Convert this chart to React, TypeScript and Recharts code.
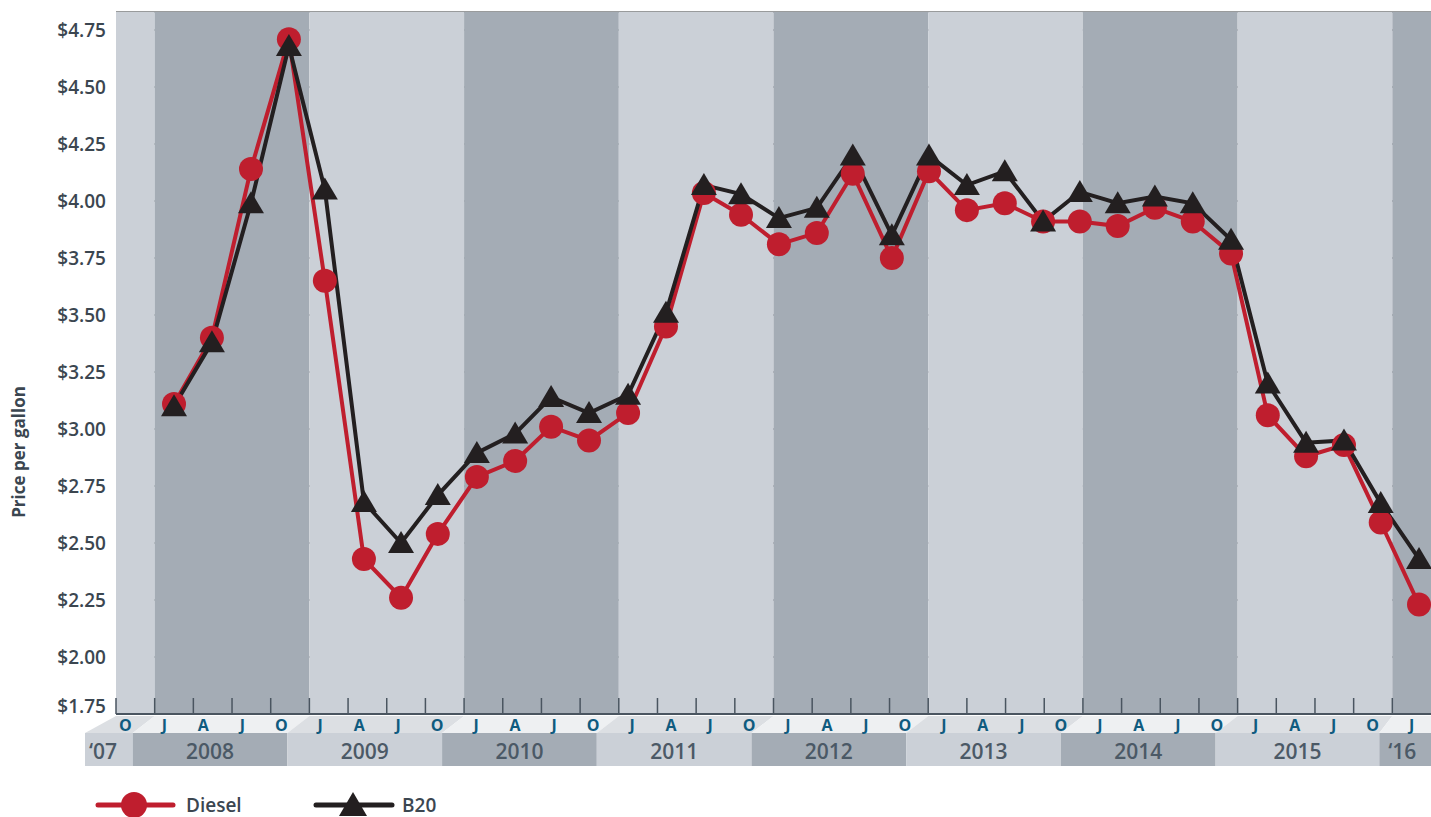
import React from "react";
import { CartesianGrid, Line, LineChart, ReferenceArea, XAxis, YAxis } from "recharts";

// quarter letters along the axis, Oct 2007 .. Jan 2016
const quarterLetters = [
  "O",
  "J", "A", "J", "O",
  "J", "A", "J", "O",
  "J", "A", "J", "O",
  "J", "A", "J", "O",
  "J", "A", "J", "O",
  "J", "A", "J", "O",
  "J", "A", "J", "O",
  "J", "A", "J", "O",
  "J",
];

const yearLabels = ["‘07", "2008", "2009", "2010", "2011", "2012", "2013", "2014", "2015", "‘16"];
const yearStarts = [0, 1, 5, 9, 13, 17, 21, 25, 29, 33];
const yearEnds = [1, 5, 9, 13, 17, 21, 25, 29, 33, 34];

// position of each price report, in quarters from Oct 2007
const reportPositions = [
  1.5, 2.48, 3.49, 4.47, 5.4, 6.41, 7.37, 8.32, 9.33, 10.32, 11.25, 12.23,
  13.24, 14.22, 15.2, 16.16, 17.14, 18.12, 19.05, 20.06, 21.02, 22.0, 22.98,
  23.97, 24.92, 25.9, 26.86, 27.84, 28.83, 29.78, 30.77, 31.75, 32.7, 33.69,
];

const dieselPrices = [
  3.11, 3.4, 4.14, 4.71, 3.65, 2.43, 2.26, 2.54, 2.79, 2.86, 3.01, 2.95,
  3.07, 3.45, 4.035, 3.94, 3.81, 3.86, 4.12, 3.75, 4.13, 3.96, 3.99, 3.91,
  3.91, 3.89, 3.97, 3.91, 3.77, 3.06, 2.88, 2.93, 2.59, 2.23,
];

const b20Prices = [
  3.1, 3.38, 3.99, 4.68, 4.05, 2.68, 2.5, 2.71, 2.895, 2.98, 3.14, 3.07,
  3.15, 3.51, 4.07, 4.03, 3.925, 3.97, 4.2, 3.85, 4.2, 4.07, 4.13, 3.91,
  4.04, 3.99, 4.02, 3.99, 3.83, 3.2, 2.94, 2.95, 2.675, 2.43,
];

const priceTicks = [1.75, 2, 2.25, 2.5, 2.75, 3, 3.25, 3.5, 3.75, 4, 4.25, 4.5, 4.75];
const quarterTicks = quarterLetters.map((_, i) => i + 0.5);

const data = reportPositions.map((t, i) => ({
  t,
  diesel: dieselPrices[i],
  b20: b20Prices[i],
}));

const RED = "#bf1e2e";
const BLACK = "#231f20";
const LIGHT = "#cbd0d7";
const DARK = "#a4acb5";
const AXIS = "#4a5560";
const TEXT = "#3b4650";
const FONT = "'Open Sans', sans-serif";

// how far the year strip sits left of the plot band at a year boundary
const shearAt = (boundary: number) => (boundary === 0 ? 31 : boundary === yearLabels.length - 1 ? 13 : 22);

function yearBand(i: number) {
  return (props: any) => {
    const { x, y, width, height } = props;
    const dark = i % 2 === 1;
    const bottom = y + height;
    const n = yearEnds[i] - yearStarts[i];
    const q = width / n;
    const first = i === 0;
    const last = i === yearLabels.length - 1;
    const left = x - shearAt(i);
    const topRight = last ? x + width + 40 : x + width;
    const right = last ? x + width + 40 : x + width - shearAt(i + 1);
    const rowTop = bottom + 2;
    const rowMid = bottom + 19;
    const rowBottom = bottom + 52;
    const ticks = [];
    for (let k = 0; k < n; k++) {
      ticks.push(
        <line key={k} x1={x + k * q} x2={x + k * q} y1={bottom - 16} y2={bottom} stroke={AXIS} strokeWidth={1.5} />
      );
    }
    return (
      <g>
        <rect x={x} y={y} width={width} height={height} fill={dark ? DARK : LIGHT} />
        {ticks}
        <polygon
          points={`${x},${rowTop} ${topRight},${rowTop} ${right},${rowMid} ${left},${rowMid}`}
          fill={dark ? "#eef0f2" : "#dcdfe3"}
        />
        <rect x={left} y={rowMid} width={right - left} height={rowBottom - rowMid} fill={dark ? DARK : LIGHT} />
        <text
          x={first ? left + 18 : last ? left + 23 : (left + right) / 2}
          y={(rowMid + rowBottom) / 2 + 1}
          textAnchor="middle"
          dominantBaseline="central"
          fill="#4b5966"
          fontFamily={FONT}
          fontSize={21}
          fontWeight={600}
        >
          {yearLabels[i]}
        </text>
      </g>
    );
  };
}

const QuarterTick = (props: any) => {
  const { x, y, payload } = props;
  const idx = Math.floor(payload.value);
  const shift = -10 * (1 - idx / 33);
  return (
    <text
      x={x + shift}
      y={y + 11}
      textAnchor="middle"
      dominantBaseline="central"
      fill="#0f5b7f"
      fontFamily={FONT}
      fontSize={16}
      fontWeight={700}
    >
      {quarterLetters[idx]}
    </text>
  );
};

const PriceTick = (props: any) => {
  const { x, y, payload } = props;
  const dy = payload.value === 1.75 ? -8 : 0;
  return (
    <text
      x={x}
      y={y + dy}
      textAnchor="end"
      dominantBaseline="central"
      fill={TEXT}
      fontFamily={FONT}
      fontSize={19}
      fontWeight={600}
    >
      {"$" + payload.value.toFixed(2)}
    </text>
  );
};

const Triangle = (props: any) => {
  const { cx, cy, index } = props;
  if (cx == null || cy == null) return <g key={index} />;
  return (
    <polygon
      key={index}
      points={`${cx},${cy - 12} ${cx + 13},${cy + 10} ${cx - 13},${cy + 10}`}
      fill={BLACK}
    />
  );
};

export default function App() {
  return (
    <div
      style={{
        position: "absolute",
        left: 0,
        top: 0,
        width: 1431,
        height: 817,
        overflow: "hidden",
        background: "#ffffff",
        fontFamily: FONT,
      }}
    >
      <LineChart width={1431} height={766} data={data} margin={{ top: 12, right: 0, bottom: 0, left: 0 }}>
        {yearLabels.map((label, i) => (
          <ReferenceArea
            key={label}
            x1={yearStarts[i]}
            x2={yearEnds[i]}
            ifOverflow="visible"
            shape={yearBand(i)}
          />
        ))}
        <CartesianGrid horizontal vertical={false} stroke="#999b9c" strokeWidth={2} />
        <XAxis
          type="number"
          dataKey="t"
          domain={[0, 34]}
          ticks={quarterTicks}
          interval={0}
          tick={<QuarterTick />}
          tickLine={false}
          tickSize={0}
          tickMargin={0}
          axisLine={{ stroke: AXIS, strokeWidth: 2 }}
          height={52}
          allowDataOverflow
        />
        <YAxis
          type="number"
          domain={[1.75, 4.829]}
          ticks={priceTicks}
          interval={0}
          tick={<PriceTick />}
          tickLine={false}
          axisLine={false}
          tickSize={0}
          tickMargin={10}
          width={116}
          allowDataOverflow
        />
        <Line
          type="linear"
          dataKey="diesel"
          stroke={RED}
          strokeWidth={4}
          dot={{ r: 12, fill: RED, stroke: "none" }}
          activeDot={false}
          isAnimationActive={false}
        />
        <Line
          type="linear"
          dataKey="b20"
          stroke={BLACK}
          strokeWidth={4}
          dot={<Triangle />}
          activeDot={false}
          isAnimationActive={false}
        />
      </LineChart>

      <div
        style={{
          position: "absolute",
          left: 18,
          top: 452,
          transform: "translate(-50%, -50%) rotate(-90deg)",
          fontSize: 17,
          fontWeight: 700,
          color: TEXT,
          whiteSpace: "nowrap",
        }}
      >
        Price per gallon
      </div>

      <svg width={1431} height={51} style={{ position: "absolute", left: 0, top: 766 }}>
        <line x1={98} x2={173} y1={39} y2={39} stroke={RED} strokeWidth={5} strokeLinecap="round" />
        <circle cx={134} cy={39} r={13} fill={RED} />
        <text x={186} y={39} dominantBaseline="central" fill={TEXT} fontFamily={FONT} fontSize={19} fontWeight={600}>
          Diesel
        </text>
        <line x1={316} x2={392} y1={39} y2={39} stroke={BLACK} strokeWidth={5} strokeLinecap="round" />
        <polygon points="353,26 367,50 339,50" fill={BLACK} />
        <text x={402} y={39} dominantBaseline="central" fill={TEXT} fontFamily={FONT} fontSize={19} fontWeight={600}>
          B20
        </text>
      </svg>
    </div>
  );
}
